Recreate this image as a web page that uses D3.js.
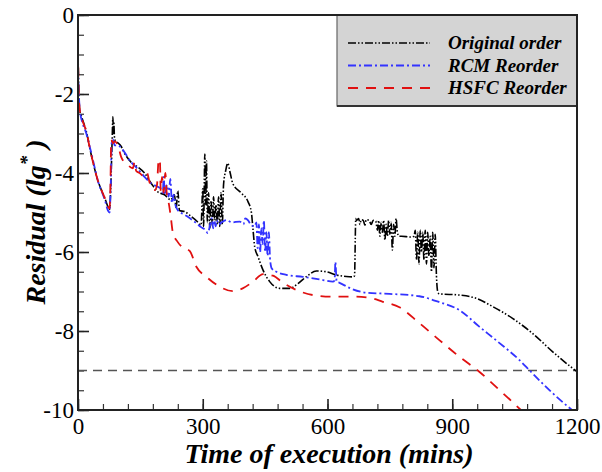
<!DOCTYPE html>
<html>
<head>
<meta charset="utf-8">
<script src="https://cdn.jsdelivr.net/npm/d3@7"></script>
<style>
  html, body { margin: 0; padding: 0; background: #fff; }
  svg { display: block; }
</style>
</head>
<body>
<svg id="chart" width="602" height="472" font-family="Liberation Serif"></svg>
<script>
// Residual history (lg*) against wall-clock time for three cell orderings.
const xTickLabels = [0, 300, 600, 900, 1200];
const yTickLabels = [0, -2, -4, -6, -8, -10];
const thresholdLevel = -9;

const seriesNames = ["Original order", "RCM Reorder", "HSFC Reorder"];

const originalTime = [0, 2, 4, 8, 20, 31, 48, 65, 72, 76, 79, 82, 84, 85, 86, 88, 92, 104, 112, 128, 144, 160, 176, 192, 208, 223, 232, 236, 240, 244, 257, 272, 288, 296,
  300, 302, 305, 307, 309, 311, 314, 317, 320, 323, 326, 329, 332, 335, 338, 341, 344, 347, 350, 355, 360, 366, 372, 392, 409, 417, 421, 425, 433, 445, 461, 485, 509, 529, 552, 573, 597, 621, 645, 662, 665, 668,
  670, 675, 678, 681, 686, 690, 693, 700, 705, 710, 716, 720, 723, 726, 729, 732, 735, 738, 741, 744, 747, 750, 753, 756, 759, 762, 765, 768, 772, 778, 800, 808,
  811, 814, 817, 820, 823, 826, 829, 832, 835, 838, 841, 844, 847, 850, 853, 856, 859, 862, 865, 869, 917, 957, 997, 1045, 1093, 1141, 1170, 1200];
const originalResidual = [-0.9, -2.0, -2.4, -2.55, -2.95, -3.5, -4.2, -4.65, -4.85, -4.92, -4.3, -3.2, -2.58, -3.0, -2.7, -3.15, -3.2, -3.33, -3.5, -3.73, -3.85, -4.0, -4.26, -4.48, -4.55, -4.68, -4.55, -4.9, -4.45, -4.95, -4.98, -5.1, -5.24, -5.32,
  -4.4, -5.35, -3.52, -4.8, -3.7, -5.25, -4.5, -5.4, -4.7, -5.35, -4.6, -5.2, -4.8, -5.3, -4.6, -5.35, -4.5, -5.3, -4.3, -3.95, -3.75, -4.0, -4.26, -4.5, -4.73, -5.0, -5.45, -5.87, -6.12, -6.46, -6.75, -6.92, -6.92, -6.8, -6.6, -6.48, -6.5, -6.58, -6.62, -6.63, -6.6, -5.15,
  -5.2, -5.15, -5.3, -5.18, -5.2, -5.32, -5.18, -5.2, -5.3, -5.2, -5.22, -5.45, -5.2, -5.6, -5.25, -5.5, -5.2, -5.7, -5.3, -5.6, -5.2, -5.55, -5.25, -5.95, -5.3, -5.6, -5.15, -5.5, -5.6, -5.6, -5.62, -5.6,
  -5.45, -6.2, -5.5, -6.3, -5.45, -6.0, -5.5, -6.2, -5.45, -6.3, -5.5, -6.1, -5.6, -6.5, -5.5, -6.4, -5.55, -6.6, -7.0, -7.06, -7.09, -7.17, -7.38, -7.68, -8.06, -8.52, -8.78, -9.03];

const rcmTime = [0, 2, 5, 10, 20, 31, 48, 65, 72, 76, 79, 81, 84, 88, 96, 108, 128, 144, 160, 176, 192, 200, 204, 206, 209, 214, 218, 222, 226, 230, 234, 240, 257, 281, 296, 307, 312, 318, 322, 325, 328, 331, 334, 338, 345, 357, 370, 389, 398, 402, 409, 415, 425,
  429, 432, 435, 438, 441, 444, 447, 450, 453, 456, 459, 462, 466, 477, 501, 541, 589, 613, 617, 619, 622, 629, 653, 693, 749, 821, 869, 917, 965, 1013, 1061, 1089, 1133, 1160, 1188];
const rcmResidual = [-1.3, -2.0, -2.45, -2.7, -3.0, -3.45, -4.2, -4.7, -4.95, -5.0, -4.2, -3.25, -3.15, -3.3, -3.3, -3.42, -3.73, -3.9, -4.1, -4.26, -4.35, -4.4, -4.5, -4.1, -4.55, -4.3, -4.6, -4.15, -4.76, -4.55, -4.8, -4.94, -5.06, -5.24, -5.37, -5.45, -5.52, -5.3, -5.14, -5.4, -5.2, -5.35, -5.2, -5.3, -5.25, -5.19, -5.25, -5.23, -5.3, -5.15, -5.2, -5.3, -5.35,
  -5.25, -5.9, -5.3, -6.0, -5.4, -5.8, -5.2, -6.0, -5.5, -6.1, -5.5, -6.2, -6.42, -6.5, -6.58, -6.63, -6.71, -6.75, -6.72, -6.25, -6.75, -6.78, -6.91, -7.03, -7.06, -7.12, -7.27, -7.47, -7.89, -8.3, -8.73, -9.03, -9.49, -9.75, -10.0];

const hsfcTime = [0, 2, 5, 10, 20, 31, 48, 65, 72, 76, 78, 80, 84, 88, 96, 104, 120, 132, 136, 140, 148, 160, 166, 172, 185, 190, 194, 197, 199, 202, 206, 210, 214, 218, 223, 228, 240, 250, 269, 285, 309, 341, 372, 396, 421, 445, 469, 493, 525, 565, 613, 661, 701, 733, 773, 821, 869, 917, 965, 1013, 1040, 1065];
const hsfcResidual = [-0.85, -2.1, -2.45, -2.65, -2.95, -3.5, -4.2, -4.65, -4.85, -4.9, -4.3, -3.16, -3.25, -3.2, -3.3, -3.6, -3.8, -3.88, -3.72, -3.95, -4.0, -4.1, -4.0, -4.23, -4.43, -4.3, -3.65, -3.7, -4.45, -4.1, -4.5, -4.0, -4.6, -4.75, -5.1, -5.5, -5.75, -5.87, -5.98, -6.38, -6.63, -6.88, -6.99, -6.92, -6.75, -6.56, -6.6, -6.78, -6.96, -7.09, -7.13, -7.13, -7.16, -7.26, -7.4, -7.8, -8.23, -8.65, -9.03, -9.49, -9.75, -10.0];

(function () {
  const series = [
    { name: seriesNames[0], t: originalTime, v: originalResidual, color: "#000000", dash: "8,2,1.5,2,1.5,2", width: 1.6 },
    { name: seriesNames[1], t: rcmTime, v: rcmResidual, color: "#3333ff", dash: "8,3,2,3", width: 1.8 },
    { name: seriesNames[2], t: hsfcTime, v: hsfcResidual, color: "#e01010", dash: "10,8", width: 1.8 }
  ];

  const FONT = "Liberation Serif";
  const svg = d3.select("#chart");
  const pL = 78, pR = 577, pT = 15, pB = 410;

  const x = d3.scaleLinear().domain([0, 1200]).range([pL, pR]);
  const y = d3.scaleLinear().domain([-10, 0]).range([pB, pT]);

  svg.append("defs").append("clipPath").attr("id", "plotClip")
    .append("rect").attr("x", pL).attr("y", pT).attr("width", pR - pL).attr("height", pB - pT);

  const minus = s => s.replace("\u2212", "-");

  // minor ticks
  svg.append("g").attr("transform", `translate(0,${pB})`)
    .call(d3.axisBottom(x).tickValues(d3.range(0, 1201, 60)).tickSize(-6).tickFormat(""))
    .call(g => g.select(".domain").remove())
    .call(g => g.selectAll("line").attr("stroke", "#333").attr("stroke-width", 1.2));
  svg.append("g").attr("transform", `translate(${pL},0)`)
    .call(d3.axisLeft(y).tickValues(d3.range(-10, 0.01, 0.5)).tickSize(-6).tickFormat(""))
    .call(g => g.select(".domain").remove())
    .call(g => g.selectAll("line").attr("stroke", "#333").attr("stroke-width", 1.2));

  // major ticks with labels
  const styleTicks = g => {
    g.select(".domain").remove();
    g.attr("font-family", FONT).attr("font-size", 23);
    g.selectAll("line").attr("stroke", "#222").attr("stroke-width", 1.6);
    g.selectAll("text").attr("font-family", FONT).attr("font-size", 23).attr("fill", "#000");
  };
  svg.append("g").attr("transform", `translate(0,${pB})`)
    .call(d3.axisBottom(x).tickValues(xTickLabels).tickSize(-11).tickPadding(8).tickFormat(d => minus(d3.format("d")(d))))
    .call(styleTicks);
  svg.append("g").attr("transform", `translate(${pL},0)`)
    .call(d3.axisLeft(y).tickValues(yTickLabels).tickSize(-11).tickPadding(4).tickFormat(d => minus(d3.format("d")(d))))
    .call(styleTicks);

  // convergence threshold
  svg.append("line")
    .attr("x1", x(0)).attr("x2", x(1200)).attr("y1", y(thresholdLevel)).attr("y2", y(thresholdLevel))
    .attr("stroke", "#555").attr("stroke-width", 1.5).attr("stroke-dasharray", "9,6");

  const line = d3.line().x(d => x(d[0])).y(d => y(d[1])).curve(d3.curveMonotoneX);
  const plot = svg.append("g").attr("clip-path", "url(#plotClip)");
  series.forEach(s => {
    plot.append("path")
      .datum(s.t.map((t, i) => [t, s.v[i]]))
      .attr("fill", "none")
      .attr("stroke", s.color)
      .attr("stroke-width", s.width)
      .attr("stroke-dasharray", s.dash)
      .attr("d", line);
  });

  // legend
  const lg = svg.append("g");
  lg.append("rect").attr("x", 337).attr("y", pT).attr("width", pR - 337).attr("height", 91)
    .attr("fill", "#d4d4d4").attr("stroke", "#666").attr("stroke-width", 1.2);
  lg.append("path").attr("d", `M337,${pT + 91}H${pR}V${pT}`).attr("fill", "none").attr("stroke", "#333").attr("stroke-width", 2);
  series.forEach((s, i) => {
    const yy = 43 + i * 22.5;
    lg.append("line").attr("x1", 348).attr("x2", 430).attr("y1", yy).attr("y2", yy)
      .attr("stroke", s.color).attr("stroke-width", s.width).attr("stroke-dasharray", s.dash);
    lg.append("text").attr("x", 448).attr("y", yy + 6).text(s.name)
      .attr("font-family", FONT).attr("font-size", 19).attr("font-weight", "bold").attr("font-style", "italic");
  });

  // plot frame
  svg.append("rect").attr("x", pL).attr("y", pT).attr("width", pR - pL).attr("height", pB - pT)
    .attr("fill", "none").attr("stroke", "#222").attr("stroke-width", 2);

  // axis titles
  svg.append("text").attr("x", 329).attr("y", 463).attr("text-anchor", "middle")
    .attr("font-family", FONT).attr("font-size", 28).attr("font-weight", "bold").attr("font-style", "italic")
    .text("Time of execution (mins)");
  const yt = svg.append("text").attr("transform", "translate(45,222) rotate(-90)").attr("text-anchor", "middle")
    .attr("font-family", FONT).attr("font-size", 28).attr("font-weight", "bold").attr("font-style", "italic");
  yt.append("tspan").text("Residual (lg");
  yt.append("tspan").attr("dy", -12).attr("font-size", 19).text("*");
  yt.append("tspan").attr("dy", 12).text(" )");
})();
</script>
</body>
</html>
